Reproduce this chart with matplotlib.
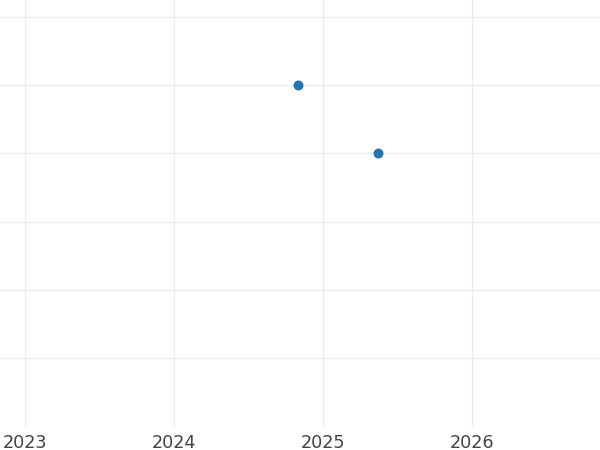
import matplotlib
matplotlib.use("Agg")
import matplotlib.pyplot as plt
import matplotlib.dates as mdates
import pandas as pd

dates = pd.to_datetime(["2024-11-01", "2025-05-15"])
values = [4, 3]
y_ticks = [0, 1, 2, 3, 4, 5]
x_ticks = pd.to_datetime(["2023-01-01", "2024-01-01", "2025-01-01", "2026-01-01"])

fig = plt.figure(figsize=(6, 4.5), dpi=100)
ax = fig.add_axes([0, 23 / 450, 1, 1 - 23 / 450])

ax.scatter(dates, values, s=38, color="#1f77b4", zorder=3)

ax.set_xlim(pd.Timestamp("2022-11-01"), pd.Timestamp("2026-11-11"))
ax.set_ylim(-1.01, 5.25)
ax.set_xticks(x_ticks)
ax.xaxis.set_major_formatter(mdates.DateFormatter("%Y"))
ax.set_yticks(y_ticks)
ax.set_yticklabels([])

ax.grid(True, color="#ebebeb", linewidth=1.0)
ax.set_axisbelow(True)
for s in ax.spines.values():
    s.set_visible(False)
ax.tick_params(length=0, labelsize=12.7, labelcolor="#444444", pad=5)

fig.savefig("out.png", dpi=100)
